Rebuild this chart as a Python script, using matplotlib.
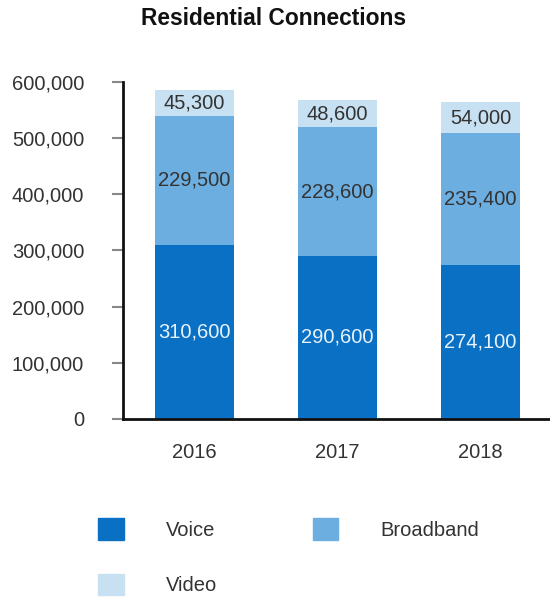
import matplotlib.pyplot as plt
from matplotlib.patches import Patch
from matplotlib.ticker import FuncFormatter

plt.rcParams['font.family'] = ['Liberation Sans', 'DejaVu Sans']

years = ['2016', '2017', '2018']
voice = [310600, 290600, 274100]
broadband = [229500, 228600, 235400]
video = [45300, 48600, 54000]

c_voice = '#0a70c4'
c_broad = '#6caee0'
c_video = '#c7e1f3'
txt = '#333333'

fig = plt.figure(figsize=(5.5, 6.04), dpi=100)
ax = fig.add_axes([0.2236, 0.3063, 0.78, 0.558])

x = range(len(years))
w = 0.55
ax.bar(x, voice, w, color=c_voice)
ax.bar(x, broadband, w, bottom=voice, color=c_broad)
bottoms = [v + b for v, b in zip(voice, broadband)]
ax.bar(x, video, w, bottom=bottoms, color=c_video)

fs = 14.5
for i in x:
    ax.text(i, voice[i] / 2, f'{voice[i]:,}', ha='center', va='center',
            color='#e8f3fc', fontsize=fs)
    ax.text(i, voice[i] + broadband[i] / 2, f'{broadband[i]:,}', ha='center',
            va='center', color=txt, fontsize=fs)
    ax.text(i, bottoms[i] + video[i] / 2, f'{video[i]:,}', ha='center',
            va='center', color=txt, fontsize=fs)

ax.set_xlim(-0.5, 2.5)
ax.set_ylim(0, 600000)
ax.set_yticks(range(0, 600001, 100000))
ax.yaxis.set_major_formatter(FuncFormatter(lambda v, p: f'{int(v):,}'))
ax.set_xticks(list(x))
ax.set_xticklabels(years)
ax.tick_params(axis='y', length=8, width=1.5, color='#888888',
               labelsize=fs, labelcolor=txt, pad=20)
ax.tick_params(axis='x', length=0, labelsize=fs, labelcolor=txt, pad=17.5)
for s in ['top', 'right']:
    ax.spines[s].set_visible(False)
for s in ['left', 'bottom']:
    ax.spines[s].set_linewidth(2)
    ax.spines[s].set_color('#111111')

fig.text(0.498, 0.97, 'Residential Connections', ha='center', va='center',
         fontsize=16.4, fontweight='bold', color='#111111')

handles = [Patch(color=c_voice, label='Voice'),
           Patch(color=c_video, label='Video'),
           Patch(color=c_broad, label='Broadband')]
fig.legend(handles=handles, ncol=2, loc='upper left',
           bbox_to_anchor=(0.146, 0.172), bbox_transform=fig.transFigure,
           frameon=False, fontsize=fs, handlelength=1.25, handleheight=1.25,
           handletextpad=2.1, columnspacing=4.75, labelspacing=1.7,
           labelcolor=txt)

fig.savefig('out.png', dpi=100)
